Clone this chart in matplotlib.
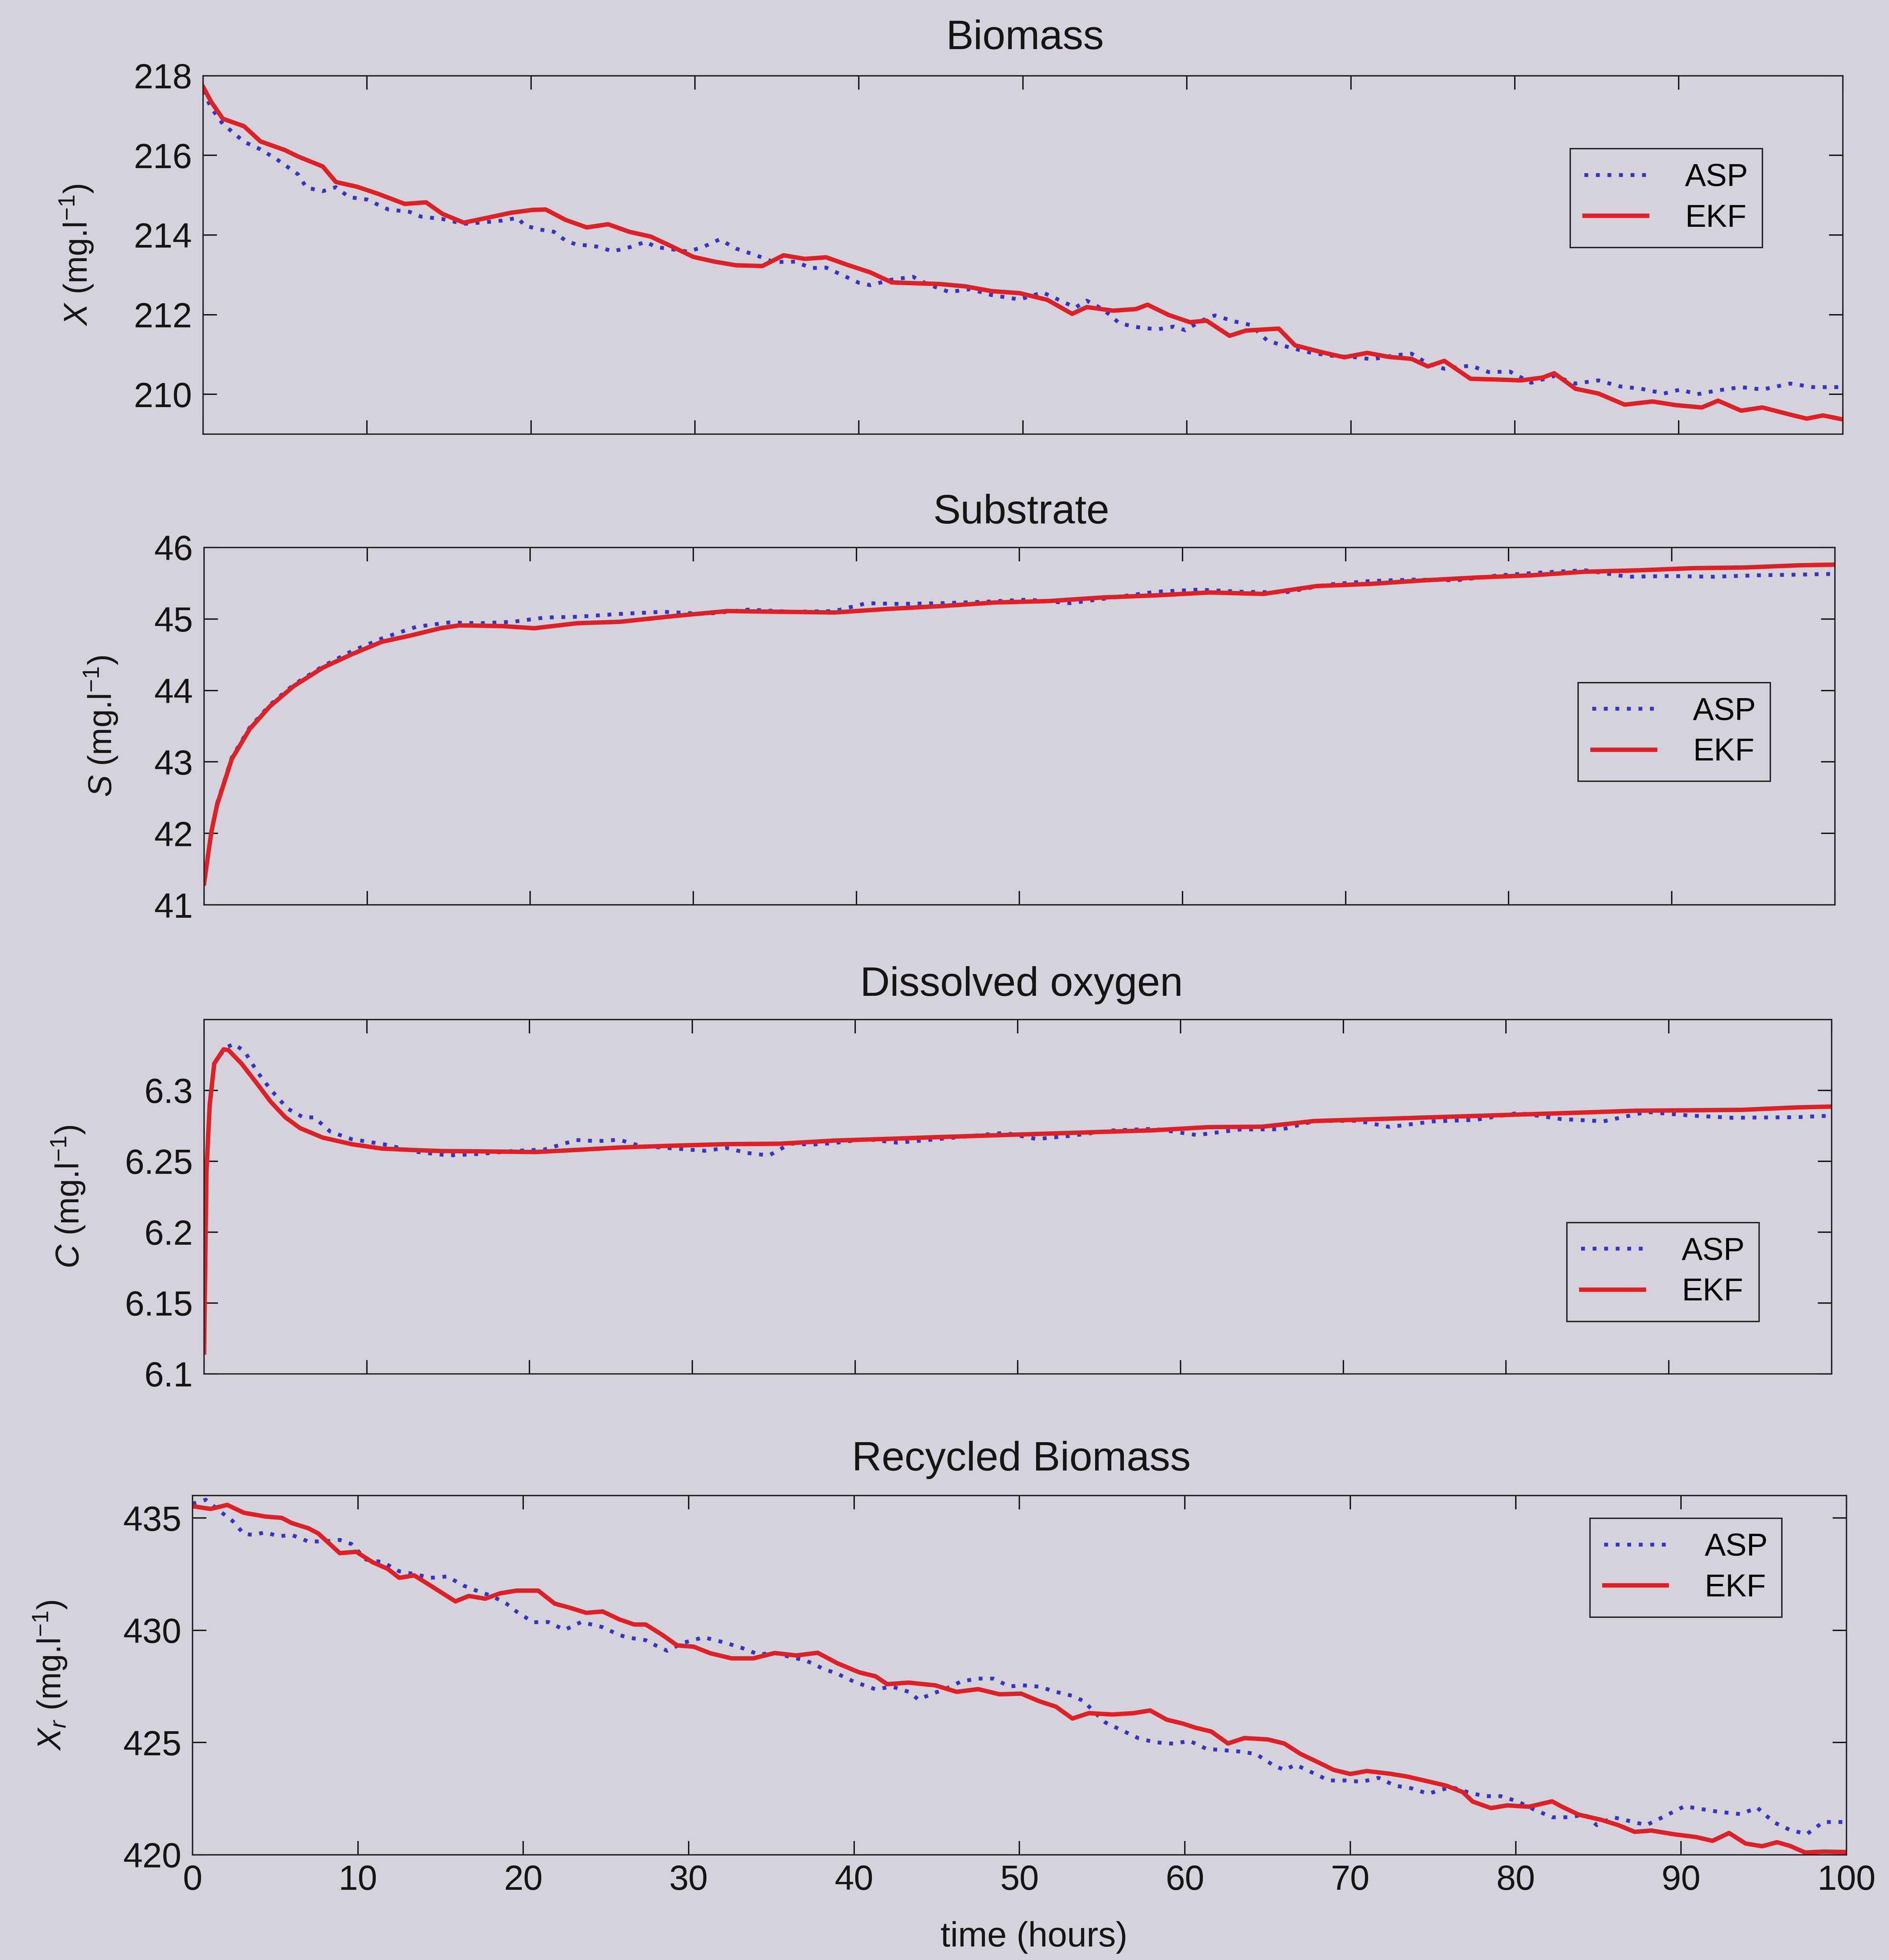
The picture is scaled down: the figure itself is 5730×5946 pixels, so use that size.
import matplotlib
matplotlib.use("Agg")
import matplotlib.pyplot as plt

plt.rcParams['font.family'] = ['Liberation Sans', 'DejaVu Sans']
plt.rcParams['mathtext.fontset'] = 'custom'
plt.rcParams['mathtext.rm'] = 'Liberation Sans'
plt.rcParams['mathtext.it'] = 'Liberation Sans:italic'

# ---- data ----
bio_ekf_t = [0, 0.5, 1.2, 2.5, 3.5, 5.0, 5.8, 7.3, 8.1, 9.4, 10.7, 12.3, 13.6, 14.6, 15.9,
             17.2, 18.8, 20.1, 20.9, 22.1, 23.4, 24.7, 26.0, 27.3, 28.6, 29.9, 31.2, 32.5,
             34.1, 35.4, 36.7, 38.0, 39.3, 40.7, 42.0, 43.3, 44.9, 46.5, 48.1, 49.8, 51.5,
             53.0, 53.9, 55.5, 56.9, 57.6, 58.9, 60.2, 61.2, 62.6, 63.6, 65.6, 66.6, 68.3,
             69.6, 71.0, 72.3, 73.7, 74.7, 75.7, 77.3, 79.0, 80.4, 81.7, 82.4, 83.7, 85.1,
             86.7, 88.4, 89.8, 91.4, 92.4, 93.8, 95.1, 96.8, 97.8, 98.8, 100]
bio_ekf = [217.72, 217.34, 216.92, 216.73, 216.35, 216.13, 215.97, 215.72, 215.33, 215.21,
           215.03, 214.78, 214.82, 214.53, 214.31, 214.42, 214.56, 214.63, 214.64, 214.38,
           214.19, 214.27, 214.08, 213.96, 213.71, 213.45, 213.33, 213.24, 213.22, 213.49,
           213.40, 213.44, 213.25, 213.06, 212.81, 212.79, 212.77, 212.71, 212.59, 212.54,
           212.37, 212.02, 212.19, 212.10, 212.14, 212.25, 211.99, 211.81, 211.85, 211.47,
           211.60, 211.65, 211.23, 211.05, 210.93, 211.04, 210.94, 210.89, 210.70, 210.84,
           210.39, 210.37, 210.35, 210.42, 210.53, 210.14, 210.02, 209.74, 209.82, 209.73,
           209.67, 209.84, 209.59, 209.67, 209.49, 209.39, 209.47, 209.37]

bio_asp_t = [0, 0.5, 1.2, 2.5, 3.5, 4.5, 5.8, 6.3, 7.3, 8.1, 8.9, 10.0, 11.3, 12.6, 13.3,
             14.6, 15.9, 17.2, 18.2, 19.2, 19.6, 20.5, 21.4, 22.1, 22.7, 24.0, 25.0, 26.0,
             27.0, 27.6, 28.6, 29.6, 30.6, 31.5, 32.5, 33.8, 34.8, 36.1, 37.1, 38.0, 39.0,
             40.0, 40.7, 42.0, 43.3, 44.2, 45.5, 46.8, 48.1, 49.8, 51.2, 52.2, 53.2, 53.9,
             54.9, 55.9, 56.9, 58.2, 59.2, 59.9, 60.9, 61.7, 62.9, 63.9, 64.9, 66.3, 67.6,
             69.0, 70.3, 71.3, 72.7, 73.7, 74.7, 75.7, 77.3, 78.4, 79.7, 81.0, 82.4, 83.7,
             85.1, 86.4, 87.7, 89.1, 90.1, 91.1, 92.4, 93.8, 95.1, 96.8, 98.2, 100]
bio_asp = [217.62, 217.19, 216.79, 216.34, 216.15, 215.90, 215.52, 215.19, 215.10, 215.20,
           214.95, 214.89, 214.64, 214.58, 214.46, 214.40, 214.28, 214.32, 214.36, 214.43,
           214.24, 214.14, 214.08, 213.86, 213.77, 213.71, 213.59, 213.69, 213.83, 213.70,
           213.64, 213.58, 213.72, 213.89, 213.66, 213.48, 213.32, 213.33, 213.17, 213.18,
           212.99, 212.80, 212.74, 212.88, 212.95, 212.76, 212.57, 212.64, 212.49, 212.38,
           212.56, 212.37, 212.18, 212.35, 212.13, 211.78, 211.69, 211.63, 211.70, 211.61,
           211.85, 211.98, 211.83, 211.74, 211.35, 211.17, 211.04, 210.96, 210.93, 210.88,
           210.98, 211.02, 210.77, 210.64, 210.72, 210.56, 210.57, 210.29, 210.46, 210.27,
           210.35, 210.20, 210.14, 210.02, 210.12, 210.00, 210.10, 210.18, 210.12, 210.27,
           210.18, 210.18]

sub_ekf_t = [0, 0.45, 0.8, 1.7, 2.8, 4.05, 5.5, 7.3, 9.1, 10.9, 12.7, 14.5, 15.65, 18.28,
             20.25, 22.88, 25.51, 28.80, 32.08, 35.37, 38.66, 41.95, 45.23, 48.52, 51.81,
             55.10, 58.38, 61.67, 64.96, 68.24, 71.53, 74.82, 78.11, 81.39, 84.68, 87.97,
             91.26, 94.54, 97.83, 100]
sub_ekf = [41.30, 42.02, 42.40, 43.04, 43.46, 43.78, 44.06, 44.32, 44.51, 44.68, 44.77,
           44.87, 44.91, 44.90, 44.87, 44.94, 44.96, 45.04, 45.11, 45.10, 45.09, 45.14,
           45.18, 45.23, 45.25, 45.30, 45.33, 45.37, 45.35, 45.46, 45.49, 45.54, 45.58,
           45.61, 45.66, 45.68, 45.71, 45.72, 45.75, 45.76]

sub_asp_t = [0, 0.45, 0.8, 1.7, 2.8, 4.05, 5.5, 7.3, 9.07, 11.05, 13.02, 14.99, 16.96, 18.93,
             20.91, 22.88, 25.51, 28.14, 30.77, 33.40, 36.03, 38.66, 40.63, 42.60, 45.23,
             47.86, 50.49, 53.12, 55.75, 58.38, 61.01, 63.64, 66.27, 68.90, 71.53, 74.16,
             76.79, 79.42, 82.05, 84.68, 87.31, 89.94, 92.57, 95.20, 97.83, 100]
sub_asp = [41.30, 42.02, 42.42, 43.06, 43.48, 43.80, 44.08, 44.34, 44.55, 44.74, 44.89,
           44.95, 44.94, 44.96, 45.02, 45.03, 45.07, 45.10, 45.07, 45.13, 45.10, 45.11,
           45.22, 45.21, 45.22, 45.24, 45.27, 45.22, 45.30, 45.38, 45.41, 45.38, 45.37,
           45.48, 45.53, 45.55, 45.54, 45.61, 45.65, 45.68, 45.59, 45.60, 45.59, 45.61,
           45.62, 45.63]

do_ekf_t = [0, 0.15, 0.35, 0.63, 1.2, 1.5, 2.3, 3.2, 4.1, 5.0, 5.9, 7.3, 9.1, 10.9, 12.7,
            14.6, 17.0, 20.3, 22.2, 25.5, 28.8, 32.1, 35.4, 38.7, 42.0, 45.2, 48.5, 51.8,
            55.1, 58.4, 61.7, 65.0, 68.2, 71.5, 74.8, 78.1, 81.4, 84.7, 88.0, 91.3, 94.5,
            97.8, 100]
do_ekf = [6.115, 6.243, 6.290, 6.319, 6.329, 6.3285, 6.319, 6.3057, 6.292, 6.281, 6.2734,
          6.2667, 6.262, 6.259, 6.258, 6.2572, 6.257, 6.2565, 6.2576, 6.2597, 6.261, 6.2621,
          6.2624, 6.2646, 6.2658, 6.2671, 6.2683, 6.2695, 6.2707, 6.2719, 6.2741, 6.2744,
          6.2784, 6.2796, 6.2808, 6.2820, 6.2832, 6.2844, 6.2857, 6.2860, 6.2863, 6.2880,
          6.2886]

do_asp_t = [0, 0.15, 0.35, 0.63, 1.31, 1.84, 2.5, 3.29, 4.14, 5.13, 6.11, 6.77, 7.76, 9.07,
            11.05, 13.02, 15.0, 16.96, 18.93, 20.91, 22.88, 24.2, 25.51, 26.82, 28.8, 30.77,
            32.08, 33.4, 34.71, 36.03, 37.34, 38.66, 40.63, 42.6, 44.58, 46.55, 49.18, 51.15,
            53.12, 55.75, 58.38, 61.01, 63.64, 66.27, 68.24, 70.87, 72.85, 75.49, 78.11,
            80.74, 83.37, 86.0, 88.63, 91.26, 93.89, 95.86, 97.83, 100]
do_asp = [6.115, 6.243, 6.290, 6.319, 6.330, 6.3329, 6.3274, 6.3128, 6.300, 6.2872, 6.2809,
          6.2810, 6.2709, 6.2656, 6.2620, 6.2567, 6.2541, 6.2552, 6.2572, 6.2583, 6.2650,
          6.2642, 6.2652, 6.2608, 6.2591, 6.2574, 6.2594, 6.2558, 6.2541, 6.2625, 6.2617,
          6.2628, 6.2657, 6.2631, 6.2651, 6.2672, 6.2701, 6.2657, 6.2678, 6.2717, 6.2729,
          6.2685, 6.2724, 6.2726, 6.2784, 6.2786, 6.2742, 6.2781, 6.2792, 6.2841, 6.2798,
          6.2782, 6.2848, 6.2823, 6.2807, 6.2809, 6.2811, 6.2822]

xr_ekf_t = [0, 1.1, 2.1, 3.1, 4.4, 5.4, 6.0, 7.0, 7.6, 8.3, 8.9, 9.9, 10.9, 11.8, 12.5, 13.4,
            14.4, 15.4, 15.9, 16.7, 17.7, 18.6, 19.6, 20.9, 21.9, 22.8, 23.8, 24.8, 25.8,
            26.7, 27.4, 28.4, 29.3, 30.3, 31.3, 32.6, 33.9, 35.2, 36.5, 37.8, 39.0, 40.3,
            41.3, 42.0, 43.3, 44.9, 46.2, 47.5, 48.8, 50.1, 51.2, 52.2, 53.2, 54.2, 55.6,
            56.9, 57.9, 58.9, 59.9, 60.6, 61.6, 62.6, 63.6, 65.0, 66.0, 67.0, 68.0, 69.0,
            70.0, 71.0, 72.4, 73.4, 74.4, 75.8, 76.8, 77.4, 78.5, 79.5, 80.8, 82.2, 82.8,
            83.8, 85.2, 86.2, 87.2, 88.2, 89.6, 90.9, 91.9, 92.9, 93.9, 94.9, 95.8, 96.6,
            97.5, 98.6, 100]
xr_ekf = [435.53, 435.41, 435.59, 435.24, 435.07, 435.01, 434.78, 434.55, 434.32, 433.85,
          433.44, 433.50, 433.03, 432.74, 432.34, 432.45, 431.99, 431.52, 431.29, 431.53,
          431.41, 431.65, 431.77, 431.77, 431.19, 431.01, 430.78, 430.84, 430.49, 430.26,
          430.26, 429.80, 429.33, 429.27, 428.98, 428.75, 428.75, 428.99, 428.88, 429.00,
          428.53, 428.13, 427.95, 427.60, 427.67, 427.55, 427.26, 427.38, 427.15, 427.18,
          426.84, 426.60, 426.07, 426.31, 426.25, 426.31, 426.43, 426.02, 425.84, 425.67,
          425.49, 424.96, 425.20, 425.14, 424.96, 424.49, 424.14, 423.78, 423.60, 423.73,
          423.61, 423.49, 423.32, 423.08, 422.79, 422.37, 422.08, 422.20, 422.14, 422.38,
          422.14, 421.79, 421.55, 421.32, 421.02, 421.08, 420.91, 420.79, 420.62, 420.97,
          420.50, 420.38, 420.56, 420.39, 420.10, 420.14, 420.12]

xr_asp_t = [0, 0.8, 1.8, 2.4, 3.1, 3.7, 4.4, 5.2, 6.0, 7.0, 7.9, 8.9, 9.6, 10.5, 11.5, 12.5,
            13.4, 14.4, 15.4, 16.4, 17.2, 18.1, 19.0, 19.6, 20.6, 21.5, 22.5, 23.5, 24.8,
            25.8, 26.4, 27.4, 28.0, 28.7, 29.7, 30.9, 32.2, 33.2, 34.2, 35.2, 36.1, 37.1,
            38.1, 39.0, 40.0, 41.3, 42.3, 43.3, 43.9, 44.6, 45.5, 46.5, 47.5, 48.4, 49.4,
            50.2, 51.2, 52.2, 53.2, 53.9, 54.5, 55.2, 56.2, 57.2, 58.2, 59.3, 60.3, 61.3,
            62.3, 63.3, 64.3, 65.3, 66.0, 66.7, 67.7, 68.7, 69.7, 70.7, 71.7, 72.7, 73.7,
            74.7, 76.1, 77.1, 78.1, 79.1, 80.1, 81.1, 82.2, 83.2, 84.2, 84.9, 85.9, 86.9,
            87.9, 88.9, 90.2, 91.2, 92.2, 93.6, 94.6, 95.6, 96.6, 97.6, 98.6, 100]
xr_asp = [435.64, 435.82, 435.23, 434.89, 434.30, 434.25, 434.37, 434.19, 434.25, 433.96,
          433.96, 434.03, 433.85, 433.15, 433.04, 432.63, 432.51, 432.34, 432.40, 431.99,
          431.76, 431.53, 431.18, 430.83, 430.36, 430.37, 430.02, 430.37, 430.14, 429.79,
          429.67, 429.56, 429.33, 429.09, 429.45, 429.69, 429.45, 429.22, 428.93, 428.99,
          428.82, 428.65, 428.30, 428.06, 427.71, 427.37, 427.49, 427.26, 426.91, 427.14,
          427.38, 427.73, 427.85, 427.85, 427.50, 427.55, 427.49, 427.26, 427.08, 426.84,
          426.37, 425.89, 425.54, 425.19, 425.01, 424.95, 425.07, 424.72, 424.66, 424.60,
          424.49, 424.01, 423.78, 424.01, 423.66, 423.31, 423.31, 423.25, 423.43, 423.08,
          422.96, 422.72, 423.02, 422.79, 422.61, 422.61, 422.38, 422.02, 421.67, 421.67,
          421.79, 421.32, 421.67, 421.50, 421.32, 421.68, 422.16, 422.04, 421.92, 421.81,
          422.10, 421.45, 421.10, 420.92, 421.46, 421.46]

titles = ['Biomass', 'Substrate', 'Dissolved oxygen', 'Recycled Biomass']
ylabels = [r'$X$ (mg.l$^{-1}$)', r'$S$ (mg.l$^{-1}$)', r'$C$ (mg.l$^{-1}$)',
           r'$X_r$ (mg.l$^{-1}$)']
yticks = [[210, 212, 214, 216, 218], [41, 42, 43, 44, 45, 46],
          [6.1, 6.15, 6.2, 6.25, 6.3], [420, 425, 430, 435]]
ytick_labels = [['210', '212', '214', '216', '218'], ['41', '42', '43', '44', '45', '46'],
                ['6.1', '6.15', '6.2', '6.25', '6.3'], ['420', '425', '430', '435']]
ylims = [(209, 218), (41, 46), (6.1, 6.35), (420, 436)]
xticks = list(range(0, 101, 10))
series_names = ['ASP', 'EKF']

asp_t = [bio_asp_t, sub_asp_t, do_asp_t, xr_asp_t]
asp_v = [bio_asp, sub_asp, do_asp, xr_asp]
ekf_t = [bio_ekf_t, sub_ekf_t, do_ekf_t, xr_ekf_t]
ekf_v = [bio_ekf, sub_ekf, do_ekf, xr_ekf]

# ---- layout / style ----
bg = '#d5d2db'
ink = '#151515'
red = '#dc2128'
blue = '#3434c8'
fs_tick = 25.5
fs_title = 30
fs_ylab = 24
fs_leg = 23

fig = plt.figure(figsize=(19.1, 19.82), dpi=300, facecolor=bg)

boxes = [[0.1075, 0.7785, 0.868, 0.1829],
         [0.1080, 0.5383, 0.8633, 0.1824],
         [0.1080, 0.2991, 0.8616, 0.1807],
         [0.1019, 0.0537, 0.8756, 0.1832]]
label_x = [-0.066, -0.052, -0.072, -0.075]
leg_anchor = [(0.951, 0.796), (0.9605, 0.622), (0.9555, 0.427), (0.961, 0.937)]
title_pos = [(0.5427, 0.9750), (0.5407, 0.7330), (0.5407, 0.4920), (0.5407, 0.2497)]

for i in range(4):
    ax = fig.add_axes(boxes[i])
    ax.set_facecolor(bg)
    ax.plot(asp_t[i], asp_v[i], color=blue, lw=2.8, linestyle=(0, (1, 2.0)),
            label=series_names[0])
    ax.plot(ekf_t[i], ekf_v[i], color=red, lw=3.2, label=series_names[1])
    ax.set_xlim(0, 100)
    ax.set_ylim(*ylims[i])
    ax.set_xticks(xticks)
    ax.set_yticks(yticks[i])
    ax.set_yticklabels(ytick_labels[i])
    if i < 3:
        ax.set_xticklabels([])
    ax.tick_params(direction='in', length=10, width=1.0, top=True, right=True,
                   labelsize=fs_tick, colors=ink, pad=8)
    ax.tick_params(axis='x', pad=7)
    for sp in ax.spines.values():
        sp.set_linewidth(1.0)
        sp.set_color('#222222')
    ax.set_ylabel(ylabels[i], fontsize=fs_ylab, color=ink)
    ax.yaxis.set_label_coords(label_x[i], 0.5)
    leg = ax.legend(loc='upper right', bbox_to_anchor=leg_anchor[i], borderaxespad=0,
                    fontsize=fs_leg, handlelength=1.98, handletextpad=1.2, borderpad=0.45,
                    labelspacing=0.35, fancybox=False, framealpha=1, facecolor=bg,
                    edgecolor='#222222')
    leg.get_frame().set_linewidth(1.0)
    fig.text(title_pos[i][0], title_pos[i][1], titles[i], ha='center', va='baseline',
             fontsize=fs_title, color=ink)

fig.text(0.5473, 0.0115, 'time (hours)', ha='center', va='center', fontsize=fs_tick,
         color=ink)

fig.savefig('out.png', dpi=300, facecolor=bg)
